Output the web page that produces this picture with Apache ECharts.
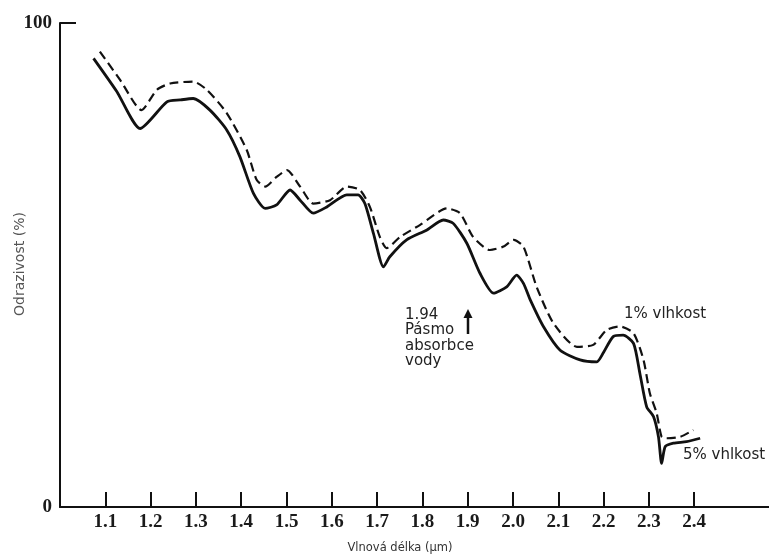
<!DOCTYPE html>
<html>
<head>
<meta charset="utf-8">
<script src="https://cdn.jsdelivr.net/npm/echarts@6/dist/echarts.min.js"></script>
<style>html,body{margin:0;padding:0;background:#fff;}#c{width:769px;height:560px;}</style>
</head>
<body>
<div id="c"></div>
<script>
// wavelength (µm) and reflectance (%) — 5% moisture (solid)
const wl5 = [1.074,1.125,1.177,1.236,1.265,1.294,1.331,1.368,1.397,1.427,1.453,1.478,1.508,1.530,1.559,1.589,1.633,1.658,1.673,1.692,1.714,1.728,1.765,1.809,1.846,1.868,1.898,1.927,1.957,1.986,2.008,2.023,2.038,2.067,2.104,2.148,2.185,2.199,2.221,2.243,2.266,2.280,2.295,2.310,2.321,2.328,2.336,2.354,2.383,2.413];
const r5  = [92.7,85.9,78.2,83.7,84.1,84.4,82.0,77.9,72.4,64.8,61.7,62.4,65.5,63.4,60.7,62.0,64.5,64.5,62.7,56.5,49.6,51.7,55.2,57.2,59.3,58.6,54.5,48.3,44.2,45.5,47.9,46.2,42.8,37.3,32.4,30.4,30.0,31.8,35.2,35.5,33.8,27.6,20.7,18.7,14.5,9.0,12.5,13.2,13.5,14.2];
// 1% moisture (dashed)
const wl1 = [1.088,1.133,1.180,1.214,1.243,1.294,1.324,1.368,1.412,1.434,1.453,1.478,1.501,1.530,1.559,1.596,1.633,1.662,1.684,1.706,1.721,1.751,1.795,1.854,1.883,1.912,1.949,1.979,2.001,2.023,2.052,2.089,2.141,2.177,2.207,2.236,2.266,2.288,2.302,2.317,2.328,2.339,2.369,2.398];
const r1  = [94.1,88.2,82.0,86.2,87.5,87.9,86.2,81.4,73.8,67.6,66.2,68.2,69.6,66.2,62.7,63.4,66.2,65.5,62.0,55.8,53.5,55.8,58.3,61.7,60.7,55.8,53.1,53.8,55.2,53.8,45.5,38.0,33.1,33.5,36.6,37.3,35.9,30.4,23.5,19.4,14.5,14.2,14.5,15.9];
const xTicks = [1.1,1.2,1.3,1.4,1.5,1.6,1.7,1.8,1.9,2.0,2.1,2.2,2.3,2.4];
const yLabels = [0,100];
const yTicks = [100];
const xName = 'Vlnová délka (µm)';
const yName = 'Odrazivost (%)';
const noteBand = '1.94\nPásmo\nabsorbce\nvody';
const note1 = '1% vlhkost';
const note5 = '5% vhlkost';

const pair = (xs, ys) => xs.map((x, i) => [x, ys[i]]);
const chart = echarts.init(document.getElementById('c'));
const sans = 'DejaVu Sans';
const serif = 'Liberation Serif';
chart.setOption({
  animation: false,
  backgroundColor: '#fff',
  grid: { left: 60, right: 0, top: 23, bottom: 53, containLabel: false, outerBoundsMode: 'none' },
  xAxis: {
    type: 'value', min: 1.0, max: 2.565,
    axisLine: { show: true, lineStyle: { color: '#111', width: 2 } },
    axisTick: { show: true, inside: true, length: 15, customValues: xTicks, lineStyle: { color: '#111', width: 2 } },
    axisLabel: { customValues: xTicks, formatter: v => v.toFixed(1), fontFamily: serif, fontSize: 19, fontWeight: 'bold', color: '#1a1a1a', margin: 6 },
    splitLine: { show: false }
  },
  yAxis: {
    type: 'value', min: 0, max: 100,
    axisLine: { show: true, lineStyle: { color: '#111', width: 2 } },
    axisTick: { show: true, inside: true, length: 16, customValues: yTicks, lineStyle: { color: '#111', width: 2 } },
    axisLabel: { customValues: yLabels, fontFamily: serif, fontSize: 19, fontWeight: 'bold', color: '#1a1a1a', margin: 8 },
    splitLine: { show: false }
  },
  series: [
    { type: 'line', name: note5, data: pair(wl5, r5), smooth: 0.22, symbol: 'none',
      lineStyle: { color: '#111', width: 2.8 } },
    { type: 'line', name: note1, data: pair(wl1, r1), smooth: 0.22, symbol: 'none',
      lineStyle: { color: '#111', width: 2.2, type: [9, 5] } }
  ],
  graphic: [
    { type: 'text', x: 20, y: 264, rotation: Math.PI / 2, style: { text: yName, fontFamily: sans, fontSize: 14, fill: '#555', align: 'center', verticalAlign: 'middle' } },
    { type: 'text', x: 400, y: 542, style: { text: xName, fontFamily: sans, fontSize: 11.5, fill: '#333', align: 'center' } },
    { type: 'text', x: 405, y: 307, style: { text: noteBand, fontFamily: sans, fontSize: 15, lineHeight: 15.5, fill: '#222' } },
    { type: 'line', shape: { x1: 468, y1: 334, x2: 468, y2: 314 }, style: { stroke: '#111', lineWidth: 2.5 } },
    { type: 'polygon', shape: { points: [[463.5, 318], [468, 309], [472.5, 318]] }, style: { fill: '#111' } },
    { type: 'text', x: 624, y: 307, style: { text: note1, fontFamily: sans, fontSize: 15, fill: '#222' } },
    { type: 'text', x: 683, y: 448, style: { text: note5, fontFamily: sans, fontSize: 15, fill: '#222' } }
  ]
});
</script>
</body>
</html>
